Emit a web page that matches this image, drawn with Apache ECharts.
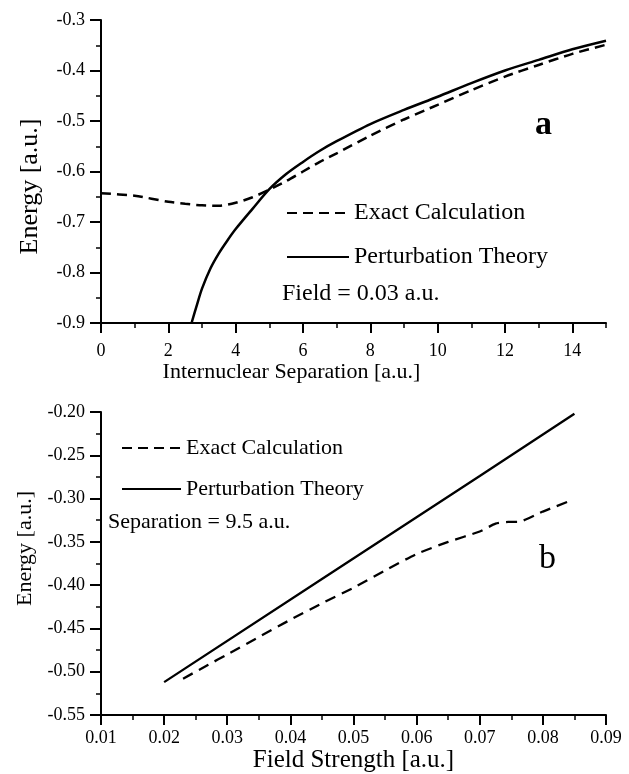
<!DOCTYPE html>
<html><head><meta charset="utf-8">
<script src="https://cdn.jsdelivr.net/npm/echarts@6/dist/echarts.min.js"></script>
<style>html,body{margin:0;padding:0;background:#fff}#c{width:629px;height:774px}</style>
</head><body><div id="c"></div>
<script>
// ---- Panel a: energy vs internuclear separation (field = 0.03 a.u.)
const sepExactX = [0, 1, 2, 2.5, 3, 3.5, 4, 4.5, 5, 5.5, 6, 6.5, 7, 8, 9, 10, 11, 12, 13, 14, 15];
const sepExactE = [-0.643, -0.648, -0.660, -0.664, -0.667, -0.668, -0.662, -0.651, -0.636, -0.619, -0.600, -0.581, -0.564, -0.529, -0.497, -0.468, -0.439, -0.412, -0.389, -0.367, -0.349];
const sepPertX = [2.69, 2.85, 3, 3.25, 3.5, 3.75, 4, 4.5, 5, 5.5, 6, 6.5, 7, 8, 9, 10, 11, 12, 13, 14, 15];
const sepPertE = [-0.9, -0.864, -0.832, -0.792, -0.762, -0.737, -0.714, -0.674, -0.635, -0.605, -0.581, -0.559, -0.540, -0.506, -0.478, -0.452, -0.425, -0.400, -0.379, -0.358, -0.341];
const sepTicks = [0, 2, 4, 6, 8, 10, 12, 14];
const sepMax = 15;
const energyTicksA = [-0.9, -0.8, -0.7, -0.6, -0.5, -0.4, -0.3];

// ---- Panel b: energy vs field strength (separation = 9.5 a.u.)
const fieldExactX = [0.023, 0.027, 0.030, 0.035, 0.040, 0.045, 0.050, 0.055, 0.060, 0.065, 0.070, 0.0725, 0.0745, 0.076, 0.080, 0.0845];
const fieldExactE = [-0.508, -0.492, -0.480, -0.460, -0.440, -0.421, -0.403, -0.383, -0.364, -0.350, -0.338, -0.329, -0.327, -0.327, -0.315, -0.302];
const fieldPertX = [0.020, 0.045, 0.070, 0.085];
const fieldPertE = [-0.512, -0.393, -0.274, -0.202];
const fieldTicks = [0.01, 0.02, 0.03, 0.04, 0.05, 0.06, 0.07, 0.08, 0.09];
const energyTicksB = [-0.55, -0.50, -0.45, -0.40, -0.35, -0.30, -0.25, -0.20];

const seriesNames = ['Exact Calculation', 'Perturbation Theory'];

const FONT = '"Liberation Serif", "Times New Roman", serif';
const K = '#000';
const zip = (xs, ys) => xs.map((x, i) => [x, ys[i]]);
const first = a => a[0], last = a => a[a.length - 1];
const step = a => +(a[1] - a[0]).toFixed(6);

const lbl = (extra) => Object.assign({fontSize: 18, fontFamily: FONT, color: K}, extra);
const line = {show: true, onZero: false, lineStyle: {color: K, width: 2}};

const chart = echarts.init(document.getElementById('c'), null, {renderer: 'canvas'});
chart.setOption({
  animation: false,
  backgroundColor: '#fff',
  color: [K, K],
  grid: [
    {left: 101, top: 20, width: 505, height: 303},
    {left: 101, top: 412, width: 505, height: 303}
  ],
  xAxis: [
    {
      gridIndex: 0, type: 'value', position: 'bottom',
      min: first(sepTicks), max: sepMax, interval: step(sepTicks),
      axisLine: line,
      axisTick: {show: true, length: 10, lineStyle: {color: K, width: 2}},
      axisLabel: lbl({margin: 19, showMaxLabel: false, formatter: v => String(v)}),
      splitLine: {show: false},
      name: 'Internuclear Separation [a.u.]', nameLocation: 'middle', nameGap: 37,
      nameTextStyle: {fontSize: 22, fontFamily: FONT, color: K, padding: [0, 124, 0, 0]}
    },
    {
      gridIndex: 0, type: 'value', position: 'bottom',
      min: first(sepTicks), max: sepMax, interval: step(sepTicks) / 2,
      axisLine: {show: false},
      axisTick: {show: true, length: 5, lineStyle: {color: K, width: 1.5}},
      axisLabel: {show: false},
      splitLine: {show: false}
    },
    {
      gridIndex: 1, type: 'value', position: 'bottom',
      min: first(fieldTicks), max: last(fieldTicks), interval: step(fieldTicks),
      axisLine: line,
      axisTick: {show: true, length: 10, lineStyle: {color: K, width: 2}},
      minorTick: {show: true, splitNumber: 2, length: 5, lineStyle: {color: K, width: 1.5}},
      axisLabel: lbl({margin: 14, formatter: v => v.toFixed(2)}),
      splitLine: {show: false}, minorSplitLine: {show: false},
      name: 'Field Strength [a.u.]', nameLocation: 'middle', nameGap: 32,
      nameTextStyle: {fontSize: 25, fontFamily: FONT, color: K}
    }
  ],
  yAxis: [
    {
      gridIndex: 0, type: 'value',
      min: first(energyTicksA), max: last(energyTicksA), interval: step(energyTicksA),
      axisLine: line,
      axisTick: {show: true, length: 11, lineStyle: {color: K, width: 2}},
      minorTick: {show: true, splitNumber: 2, length: 5, lineStyle: {color: K, width: 1.5}},
      axisLabel: lbl({margin: 16, formatter: v => v.toFixed(1)}),
      splitLine: {show: false}, minorSplitLine: {show: false},
      name: 'Energy [a.u.]', nameLocation: 'middle', nameRotate: 90, nameGap: 58,
      nameTextStyle: {fontSize: 26, fontFamily: FONT, color: K, padding: [0, 30, 0, 0]}
    },
    {
      gridIndex: 1, type: 'value',
      min: first(energyTicksB), max: last(energyTicksB), interval: step(energyTicksB),
      axisLine: line,
      axisTick: {show: true, length: 11, lineStyle: {color: K, width: 2}},
      minorTick: {show: true, splitNumber: 2, length: 5, lineStyle: {color: K, width: 1.5}},
      axisLabel: lbl({margin: 16, formatter: v => v.toFixed(2)}),
      splitLine: {show: false}, minorSplitLine: {show: false},
      name: 'Energy [a.u.]', nameLocation: 'middle', nameRotate: 90, nameGap: 64,
      nameTextStyle: {fontSize: 22, fontFamily: FONT, color: K, padding: [0, 0, 0, 30]}
    }
  ],
  legend: [
    {
      left: 281, top: 196, orient: 'vertical', itemWidth: 62, itemHeight: 14, itemGap: 20,
      selectedMode: false, data: seriesNames,
      itemStyle: {opacity: 0},
      textStyle: {fontSize: 24, fontFamily: FONT, color: K, lineHeight: 24}
    },
    {
      left: 116, top: 432, orient: 'vertical', itemWidth: 59, itemHeight: 14, itemGap: 19,
      selectedMode: false, data: seriesNames,
      itemStyle: {opacity: 0},
      textStyle: {fontSize: 22, fontFamily: FONT, color: K, lineHeight: 22}
    }
  ],
  graphic: [
    {type: 'text', x: 535, y: 125, style: {text: 'a', font: 'bold 34px ' + FONT, fill: K, align: 'left', verticalAlign: 'middle'}},
    {type: 'text', x: 282, y: 294, style: {text: 'Field = 0.03 a.u.', font: '24px ' + FONT, fill: K, align: 'left', verticalAlign: 'middle'}},
    {type: 'text', x: 108, y: 522, style: {text: 'Separation = 9.5 a.u.', font: '22px ' + FONT, fill: K, align: 'left', verticalAlign: 'middle'}},
    {type: 'text', x: 539, y: 559, style: {text: 'b', font: '34px ' + FONT, fill: K, align: 'left', verticalAlign: 'middle'}}
  ],
  series: [
    {
      type: 'line', name: seriesNames[0], xAxisIndex: 0, yAxisIndex: 0,
      data: zip(sepExactX, sepExactE), symbol: 'none', showSymbol: false, smooth: 0.25,
      itemStyle: {color: K},
      lineStyle: {color: K, width: 2.5, type: [10, 6]}
    },
    {
      type: 'line', name: seriesNames[1], xAxisIndex: 0, yAxisIndex: 0,
      data: zip(sepPertX, sepPertE), symbol: 'none', showSymbol: false, smooth: 0.3,
      itemStyle: {color: K},
      lineStyle: {color: K, width: 2.5, type: 'solid'}
    },
    {
      type: 'line', name: seriesNames[0], xAxisIndex: 2, yAxisIndex: 1,
      data: zip(fieldExactX, fieldExactE), symbol: 'none', showSymbol: false, smooth: 0.2,
      itemStyle: {color: K},
      lineStyle: {color: K, width: 2.3, type: [11, 7]}
    },
    {
      type: 'line', name: seriesNames[1], xAxisIndex: 2, yAxisIndex: 1,
      data: zip(fieldPertX, fieldPertE), symbol: 'none', showSymbol: false,
      itemStyle: {color: K},
      lineStyle: {color: K, width: 2.3, type: 'solid'}
    }
  ]
});
</script>
</body></html>
